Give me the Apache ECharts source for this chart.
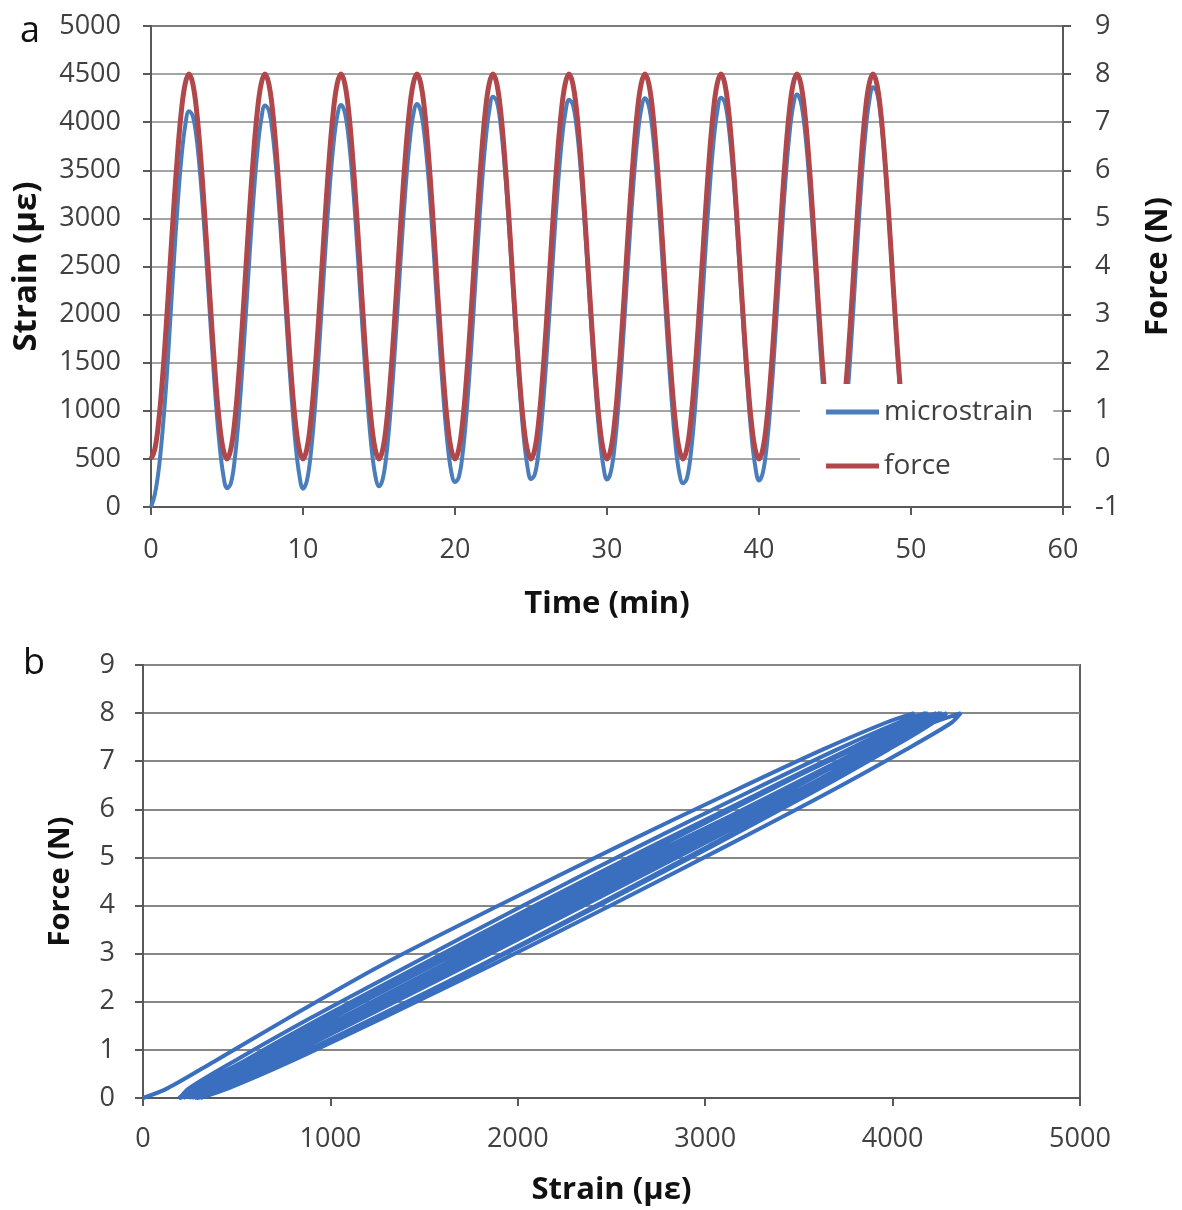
<!DOCTYPE html>
<html>
<head>
<meta charset="utf-8">
<script src="https://cdn.jsdelivr.net/npm/echarts@6/dist/echarts.min.js"></script>
<style>
html,body{margin:0;padding:0;background:#fff;}
#chart{width:1182px;height:1210px;}
</style>
</head>
<body>
<div id="chart"></div>
<script>
// Time (min), sampled every 0.25 min
const timeMin = [
0,0.25,0.5,0.75,1,1.25,1.5,1.75,2,2.25,2.5,2.75,3,3.25,3.5,3.75,4,4.25,4.5,4.75,
5,5.25,5.5,5.75,6,6.25,6.5,6.75,7,7.25,7.5,7.75,8,8.25,8.5,8.75,9,9.25,9.5,9.75,
10,10.25,10.5,10.75,11,11.25,11.5,11.75,12,12.25,12.5,12.75,13,13.25,13.5,13.75,14,14.25,14.5,14.75,
15,15.25,15.5,15.75,16,16.25,16.5,16.75,17,17.25,17.5,17.75,18,18.25,18.5,18.75,19,19.25,19.5,19.75,
20,20.25,20.5,20.75,21,21.25,21.5,21.75,22,22.25,22.5,22.75,23,23.25,23.5,23.75,24,24.25,24.5,24.75,
25,25.25,25.5,25.75,26,26.25,26.5,26.75,27,27.25,27.5,27.75,28,28.25,28.5,28.75,29,29.25,29.5,29.75,
30,30.25,30.5,30.75,31,31.25,31.5,31.75,32,32.25,32.5,32.75,33,33.25,33.5,33.75,34,34.25,34.5,34.75,
35,35.25,35.5,35.75,36,36.25,36.5,36.75,37,37.25,37.5,37.75,38,38.25,38.5,38.75,39,39.25,39.5,39.75,
40,40.25,40.5,40.75,41,41.25,41.5,41.75,42,42.25,42.5,42.75,43,43.25,43.5,43.75,44,44.25,44.5,44.75,
45,45.25,45.5,45.75,46,46.25,46.5,46.75,47,47.25,47.5,47.75,48,48.25,48.5,48.75,49,49.25,49.5,49.75,
50
];
// Microstrain (με)
const microstrain = [
0,130,380,770,1272,1898,2541,3136,3626,3963,4114,4066,3830,3431,2907,2309,1696,1128,661,340,
196,245,484,889,1422,2029,2651,3227,3702,4028,4174,4125,3886,3481,2948,2341,1719,1143,668,342,
191,269,535,962,1509,2122,2742,3307,3761,4062,4179,4101,3837,3413,2869,2260,1644,1083,631,332,
215,294,559,985,1529,2140,2757,3320,3773,4073,4189,4112,3850,3429,2889,2284,1674,1117,668,371,
261,310,551,959,1494,2105,2731,3311,3789,4117,4264,4215,3976,3571,3040,2434,1812,1237,762,437,
291,340,576,978,1506,2107,2724,3296,3766,4089,4234,4185,3948,3547,3019,2418,1801,1229,759,436,
285,364,628,1053,1596,2205,2821,3382,3834,4133,4249,4171,3904,3474,2924,2308,1686,1118,661,358,
246,295,536,945,1481,2092,2719,3300,3778,4107,4254,4205,3966,3561,3030,2424,1802,1227,752,427,
275,355,622,1052,1602,2219,2843,3411,3869,4172,4289,4211,3944,3516,2968,2353,1732,1166,710,408,
296,346,591,1005,1549,2170,2806,3396,3881,4215,4364,4314,4070,3657,3114,2495,1860,1272,788,455,
306
];
// Force (N)
const forceN = [
0,0.2,0.76,1.65,2.76,4,5.24,6.35,7.24,7.8,8,7.8,7.24,6.35,5.24,4,2.76,1.65,0.76,0.2,
0,0.2,0.76,1.65,2.76,4,5.24,6.35,7.24,7.8,8,7.8,7.24,6.35,5.24,4,2.76,1.65,0.76,0.2,
0,0.2,0.76,1.65,2.76,4,5.24,6.35,7.24,7.8,8,7.8,7.24,6.35,5.24,4,2.76,1.65,0.76,0.2,
0,0.2,0.76,1.65,2.76,4,5.24,6.35,7.24,7.8,8,7.8,7.24,6.35,5.24,4,2.76,1.65,0.76,0.2,
0,0.2,0.76,1.65,2.76,4,5.24,6.35,7.24,7.8,8,7.8,7.24,6.35,5.24,4,2.76,1.65,0.76,0.2,
0,0.2,0.76,1.65,2.76,4,5.24,6.35,7.24,7.8,8,7.8,7.24,6.35,5.24,4,2.76,1.65,0.76,0.2,
0,0.2,0.76,1.65,2.76,4,5.24,6.35,7.24,7.8,8,7.8,7.24,6.35,5.24,4,2.76,1.65,0.76,0.2,
0,0.2,0.76,1.65,2.76,4,5.24,6.35,7.24,7.8,8,7.8,7.24,6.35,5.24,4,2.76,1.65,0.76,0.2,
0,0.2,0.76,1.65,2.76,4,5.24,6.35,7.24,7.8,8,7.8,7.24,6.35,5.24,4,2.76,1.65,0.76,0.2,
0,0.2,0.76,1.65,2.76,4,5.24,6.35,7.24,7.8,8,7.8,7.24,6.35,5.24,4,2.76,1.65,0.76,0.2,
0
];
const seriesNames = ['microstrain', 'force'];
const panelLabels = ['a', 'b'];

const strainSeries = timeMin.map((t, i) => [t, microstrain[i]]);
const forceSeries = timeMin.map((t, i) => [t, forceN[i]]);
const loopSeries = microstrain.map((s, i) => [s, forceN[i]]);

const FONT = 'Open Sans';
const axisCol = '#595959';
const gridCol = '#868686';
const labelCol = '#404040';
const plain = v => String(v);

function axisCommon(extra) {
  return Object.assign({
    axisLine: { show: true, onZero: false, lineStyle: { color: axisCol, width: 2 } },
    axisTick: { show: true, length: 8, lineStyle: { color: axisCol, width: 2 } },
    nameLocation: 'middle',
    nameTextStyle: { fontSize: 31, fontWeight: 'bold', color: '#111', fontFamily: FONT },
    splitLine: { show: false }
  }, extra);
}
function lbl(margin) {
  return { fontSize: 27, color: labelCol, fontFamily: FONT, margin: margin, formatter: plain };
}

const chart = echarts.init(document.getElementById('chart'));
chart.setOption({
  animation: false,
  backgroundColor: '#fff',
  textStyle: { fontFamily: FONT },
  grid: [
    { left: 151, top: 26, width: 918, height: 481, show: true, borderColor: '#5a5a5a', borderWidth: 2, backgroundColor: 'transparent' },
    { left: 143, top: 665, width: 937, height: 433, show: true, borderColor: '#5f5f5f', borderWidth: 2, backgroundColor: 'transparent' }
  ],
  xAxis: [
    axisCommon({ gridIndex: 0, type: 'value', min: 0, max: 60, interval: 10, name: 'Time (min)', nameGap: 82, axisLabel: lbl(30) }),
    axisCommon({ gridIndex: 1, type: 'value', min: 0, max: 5000, interval: 1000, name: 'Strain (με)', nameGap: 77, axisLabel: lbl(28) })
  ],
  yAxis: [
    axisCommon({ gridIndex: 0, type: 'value', min: 0, max: 5000, interval: 500, name: 'Strain (με)', nameRotate: 90, nameGap: 108,
      nameTextStyle: { fontSize: 33, fontWeight: 'bold', color: '#111', fontFamily: FONT },
      axisLabel: lbl(30), splitLine: { show: true, lineStyle: { color: gridCol, width: 1.5 } } }),
    axisCommon({ gridIndex: 0, type: 'value', position: 'right', min: -1, max: 9, interval: 1, name: 'Force (N)', nameRotate: 90, nameGap: 80,
      axisLabel: lbl(32) }),
    axisCommon({ gridIndex: 1, type: 'value', min: 0, max: 9, interval: 1, name: 'Force (N)', nameRotate: 90, nameGap: 68,
      nameTextStyle: { fontSize: 29, fontWeight: 'bold', color: '#111', fontFamily: FONT },
      axisLabel: lbl(28), splitLine: { show: true, lineStyle: { color: gridCol, width: 2 } } })
  ],
  legend: {
    data: seriesNames,
    orient: 'vertical',
    left: 800,
    top: 384,
    backgroundColor: '#fff',
    padding: [12, 20, 12, 26],
    itemWidth: 53,
    itemHeight: 5,
    itemGap: 22,
    icon: 'rect',
    textStyle: { fontSize: 28, color: labelCol, lineHeight: 32, fontFamily: FONT }
  },
  graphic: [
    { type: 'text', left: 20, top: 14, style: { text: panelLabels[0], fontSize: 36, fill: '#111', fontFamily: FONT } },
    { type: 'text', left: 23, top: 646, style: { text: panelLabels[1], fontSize: 36, fill: '#111', fontFamily: FONT } }
  ],
  series: [
    { name: seriesNames[0], type: 'line', xAxisIndex: 0, yAxisIndex: 0, data: strainSeries, showSymbol: false, smooth: 0.4,
      lineStyle: { color: '#4A7EBB', width: 4 }, itemStyle: { color: '#4A7EBB' }, z: 2 },
    { name: seriesNames[1], type: 'line', xAxisIndex: 0, yAxisIndex: 1, data: forceSeries, showSymbol: false, smooth: 0.4,
      lineStyle: { color: '#B0474B', width: 5 }, itemStyle: { color: '#B0474B' }, z: 3 },
    { name: 'loop', type: 'line', xAxisIndex: 1, yAxisIndex: 2, data: loopSeries, showSymbol: false, smooth: 0.3,
      lineStyle: { color: '#3A6FBF', width: 4 }, itemStyle: { color: '#3A6FBF' }, z: 2 }
  ]
});
</script>
</body>
</html>
